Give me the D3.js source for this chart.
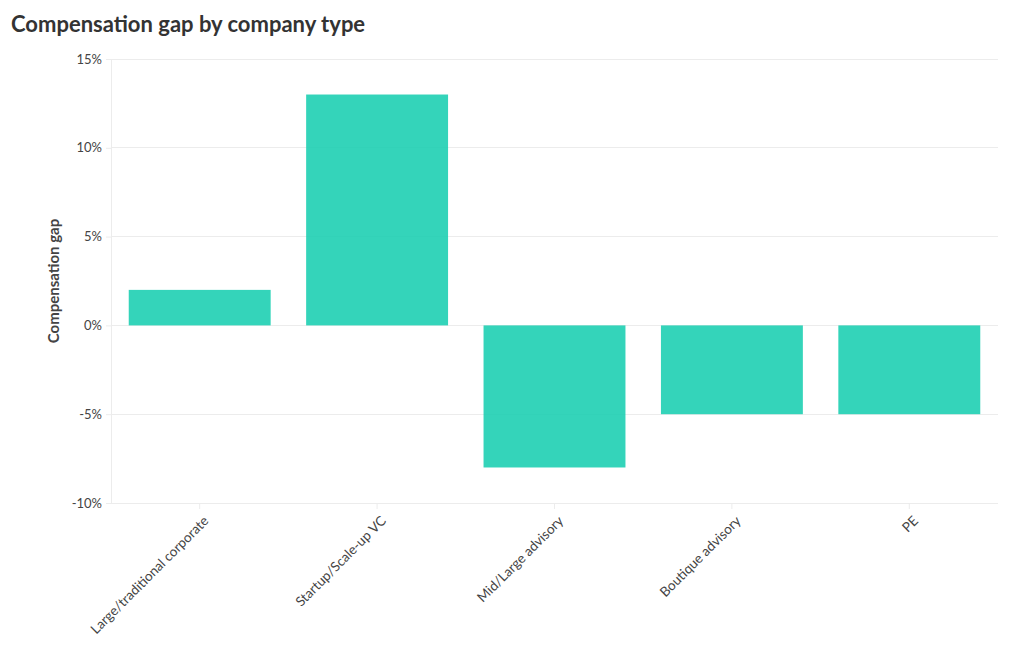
<!DOCTYPE html>
<html><head><meta charset="utf-8">
<script src="https://cdn.jsdelivr.net/npm/d3@7"></script>
<style>
body{margin:0;background:#fff;}
text{font-family:"Lato","Noto Sans",sans-serif;}
</style></head>
<body><svg id="c" width="1020" height="650"></svg>
<script>
const categories = ["Large/traditional corporate","Startup/Scale-up VC","Mid/Large advisory","Boutique advisory","PE"];
const gapValues = [2, 13, -8, -5, -5];
const yTicks = [-10, -5, 0, 5, 10, 15];

const svg = d3.select("#c");
const m = {l:111, r:998, t:59, b:503};

svg.append("text").attr("x",11).attr("y",32).attr("font-size",22).attr("font-weight",700)
  .attr("fill","#333").text("Compensation gap by company type");

const x = d3.scaleBand().domain(categories).range([m.l,m.r]).paddingInner(0.2).paddingOuter(0.1);
const y = d3.scaleLinear().domain([-10,15]).range([m.b,m.t]);

// grid
svg.append("g").selectAll("line").data(yTicks).join("line")
  .attr("x1",m.l).attr("x2",m.r).attr("y1",d=>y(d)).attr("y2",d=>y(d))
  .attr("stroke","#ececec").attr("stroke-width",1).attr("shape-rendering","crispEdges");

// y axis
const ya = svg.append("g").attr("transform",`translate(${m.l},0)`)
  .call(d3.axisLeft(y).tickValues(yTicks).tickSize(5).tickPadding(4).tickFormat(d=>d+"%"));
ya.select(".domain").attr("stroke","#ececec");
ya.selectAll(".tick line").attr("stroke","#ececec");
ya.selectAll("text").attr("fill","#444").attr("font-size",13).attr("font-family","Lato, sans-serif");

// x axis
const xa = svg.append("g").attr("transform",`translate(0,${m.b})`)
  .call(d3.axisBottom(x).tickSize(6).tickPadding(3));
xa.select(".domain").remove();
xa.selectAll(".tick line").attr("stroke","#ececec");
xa.selectAll("text").attr("fill","#444").attr("font-size",13.5).attr("font-family","Lato, sans-serif")
  .attr("text-anchor","end").attr("dy","0.35em")
  .attr("transform","translate(0,9) rotate(-45)");

// bars
svg.append("g").selectAll("rect").data(categories).join("rect")
  .attr("x",d=>x(d)).attr("width",x.bandwidth())
  .attr("y",(d,i)=>y(Math.max(0,gapValues[i])))
  .attr("height",(d,i)=>Math.abs(y(gapValues[i])-y(0)))
  .attr("fill","#1ecfb3").attr("fill-opacity",0.9);

svg.append("text").attr("transform",`translate(59,${(m.t+m.b)/2}) rotate(-90)`)
  .attr("text-anchor","middle").attr("font-size",15).attr("font-weight",700).attr("fill","#444")
  .text("Compensation gap");
</script></body></html>
